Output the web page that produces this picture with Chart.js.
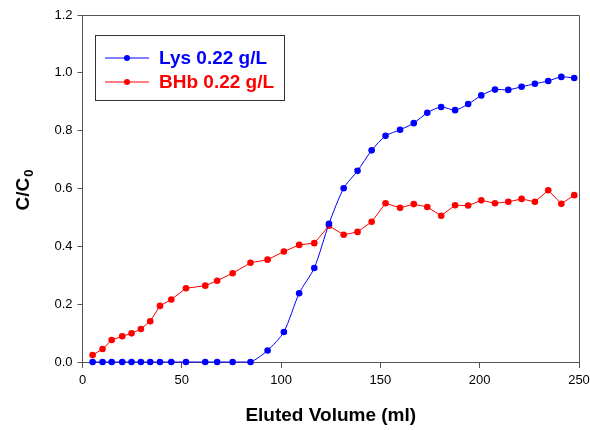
<!DOCTYPE html>
<html><head><meta charset="utf-8">
<script src="https://cdn.jsdelivr.net/npm/chart.js@4.4.1/dist/chart.umd.min.js"></script>
<style>html,body{margin:0;padding:0;background:#fff;} #wrap{width:590px;height:430px;position:relative;}</style>
</head><body><div id="wrap"><canvas id="c" width="590" height="430"></canvas></div>
<script>
const volumes = [5.1, 10.1, 14.7, 20.0, 24.7, 29.4, 34.1, 39.0, 44.7, 52.1, 61.8, 67.8, 75.6, 84.6,
  93.2, 101.4, 109.1, 116.7, 124.1, 131.5, 138.5, 145.6, 152.6, 159.9, 166.8, 173.6, 180.6, 187.6,
  194.2, 200.8, 207.7, 214.4, 221.1, 227.8, 234.5, 241.1, 247.6];
const lysValues = [0, 0, 0, 0, 0, 0, 0, 0, 0, 0, 0, 0, 0, 0,
  0.040, 0.104, 0.238, 0.325, 0.478, 0.601, 0.661, 0.732, 0.782, 0.803, 0.826, 0.862, 0.882, 0.871,
  0.892, 0.922, 0.942, 0.941, 0.952, 0.962, 0.972, 0.986, 0.982];
const bhbValues = [0.024, 0.045, 0.076, 0.089, 0.099, 0.114, 0.141, 0.194, 0.216, 0.255, 0.264, 0.281, 0.307, 0.343,
  0.354, 0.382, 0.405, 0.411, 0.471, 0.440, 0.450, 0.485, 0.549, 0.533, 0.546, 0.536, 0.506, 0.542,
  0.541, 0.559, 0.549, 0.554, 0.564, 0.554, 0.594, 0.547, 0.577];
const seriesLabels = ['Lys 0.22 g/L', 'BHb 0.22 g/L'];
const seriesColors = ['#0000ff', '#ff0000'];
const xTickValues = [0, 50, 100, 150, 200, 250];
const yTickValues = [0.0, 0.2, 0.4, 0.6, 0.8, 1.0, 1.2];
const xTitle = 'Eluted Volume (ml)';
const yTitleMain = 'C/C';
const yTitleSub = '0';

const FONT = '"Liberation Sans", Arial, sans-serif';
const AXIS = '#555555';

function pts(vals) { return volumes.map((v, i) => ({ x: v, y: vals[i] })); }

const decor = {
  id: 'decor',
  afterDraw(chart) {
    const ctx = chart.ctx;
    const a = chart.chartArea;
    ctx.save();
    ctx.strokeStyle = AXIS; ctx.lineWidth = 1;
    ctx.beginPath();
    ctx.moveTo(a.left, Math.round(a.top) + 0.5);
    ctx.lineTo(Math.round(a.right) + 0.5, Math.round(a.top) + 0.5);
    ctx.lineTo(Math.round(a.right) + 0.5, a.bottom);
    ctx.stroke();
    ctx.fillStyle = '#000';
    ctx.font = 'bold 19px ' + FONT;
    ctx.textAlign = 'center'; ctx.textBaseline = 'middle';
    ctx.fillText(xTitle, (a.left + a.right) / 2, 416);
    ctx.save();
    ctx.translate(22, (a.top + a.bottom) / 2 + 2);
    ctx.rotate(-Math.PI / 2);
    ctx.font = 'bold 19px ' + FONT;
    const w1 = ctx.measureText(yTitleMain).width;
    ctx.font = 'bold 13px ' + FONT;
    const w2 = ctx.measureText(yTitleSub).width;
    const start = -(w1 + w2) / 2;
    ctx.textAlign = 'left'; ctx.textBaseline = 'alphabetic';
    ctx.font = 'bold 19px ' + FONT;
    ctx.fillText(yTitleMain, start, 7);
    ctx.font = 'bold 13px ' + FONT;
    ctx.fillText(yTitleSub, start + w1 + 1, 11);
    ctx.restore();
    ctx.strokeStyle = '#333'; ctx.lineWidth = 1;
    ctx.strokeRect(95.5, 35.5, 189, 65);
    seriesLabels.forEach((lab, i) => {
      const cy = 57.5 + i * 24;
      const col = seriesColors[i];
      ctx.strokeStyle = col; ctx.lineWidth = 1;
      ctx.beginPath(); ctx.moveTo(105, cy + 0.5); ctx.lineTo(149, cy + 0.5); ctx.stroke();
      ctx.fillStyle = col;
      ctx.beginPath(); ctx.arc(127, cy + 0.5, 3, 0, Math.PI * 2); ctx.fill();
      ctx.font = 'bold 19px ' + FONT;
      ctx.textAlign = 'left'; ctx.textBaseline = 'middle';
      ctx.fillText(lab, 159, cy + 1);
    });
    ctx.restore();
  }
};

new Chart(document.getElementById('c'), {
  type: 'line',
  data: {
    datasets: [
      { label: seriesLabels[0], data: pts(lysValues), borderColor: seriesColors[0], backgroundColor: seriesColors[0],
        borderWidth: 1, pointRadius: 3.3, pointBorderWidth: 0, tension: 0.25, clip: false },
      { label: seriesLabels[1], data: pts(bhbValues), borderColor: seriesColors[1], backgroundColor: seriesColors[1],
        borderWidth: 1, pointRadius: 3.3, pointBorderWidth: 0, tension: 0, clip: false }
    ]
  },
  options: {
    responsive: false, animation: false, devicePixelRatio: 1,
    layout: { padding: { left: 0, top: 15, right: 11, bottom: 0 } },
    plugins: { legend: { display: false }, tooltip: { enabled: false } },
    scales: {
      x: {
        type: 'linear', min: xTickValues[0], max: xTickValues[xTickValues.length - 1],
        afterFit(s) { s.height = 68; s.paddingLeft = 0; s.paddingRight = 0; },
        afterBuildTicks(s) { s.ticks = xTickValues.map(v => ({ value: v })); },
        grid: { drawOnChartArea: false, drawTicks: true, tickLength: 6, color: AXIS },
        border: { display: true, color: AXIS },
        ticks: { color: '#000', font: { family: FONT, size: 13 }, padding: 5, maxRotation: 0 }
      },
      y: {
        type: 'linear', min: yTickValues[0], max: yTickValues[yTickValues.length - 1],
        afterFit(s) { s.width = 82.5; s.paddingTop = 0; s.paddingBottom = 0; },
        afterBuildTicks(s) { s.ticks = yTickValues.map(v => ({ value: v })); },
        grid: { drawOnChartArea: false, drawTicks: true, tickLength: 5, color: AXIS },
        border: { display: true, color: AXIS },
        ticks: { color: '#000', font: { family: FONT, size: 13 }, padding: 5,
          callback: v => Number(v).toFixed(1) }
      }
    }
  },
  plugins: [decor]
});
</script>
</body></html>
